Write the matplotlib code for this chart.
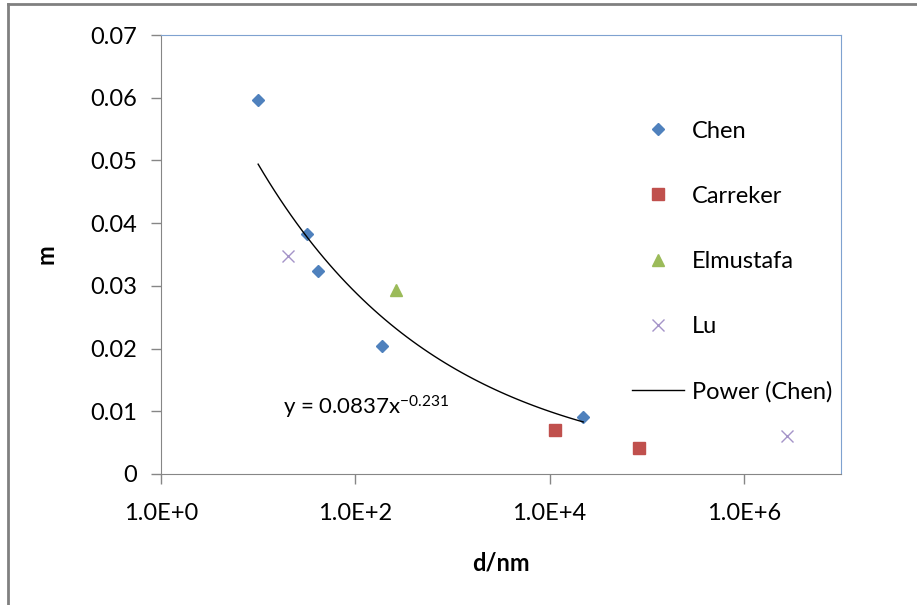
import numpy as np
import matplotlib.pyplot as plt
from matplotlib.lines import Line2D
from matplotlib.ticker import FixedLocator, FuncFormatter, NullLocator

plt.rcParams['font.family'] = ['Lato', 'DejaVu Sans']
plt.rcParams['mathtext.default'] = 'regular'

chen_d = [10, 32, 41.6, 190, 22200]
chen_m = [0.0596, 0.0383, 0.0324, 0.0204, 0.0091]
carreker_d = [11500, 82700]
carreker_m = [0.0070, 0.0041]
elmustafa_d = [265]
elmustafa_m = [0.0293]
lu_d = [20.4, 2.8e6]
lu_m = [0.0348, 0.0061]

x_ticks = [1, 1e2, 1e4, 1e6]
y_ticks = [0, 0.01, 0.02, 0.03, 0.04, 0.05, 0.06, 0.07]

# power trendline through Chen, like Excel does it (fit in log-log)
b, loga = np.polyfit(np.log(chen_d), np.log(chen_m), 1)
xf = np.geomspace(min(chen_d), max(chen_d), 60)
yf = np.exp(loga) * xf ** b

fig = plt.figure(figsize=(9.17, 6.05), dpi=100)
ax = fig.add_axes([161/917, 1-474/605, 680/917, 439/605])

ax.plot(chen_d, chen_m, 'D', color='#4F81BD', ms=6.5, mec='#4F81BD', label='Chen')
ax.plot(carreker_d, carreker_m, 's', color='#C0504D', ms=8, label='Carreker')
ax.plot(elmustafa_d, elmustafa_m, '^', color='#9BBB59', ms=8.5, label='Elmustafa')
ax.plot(lu_d, lu_m, 'x', color='#A594C8', ms=8, mew=1.0, label='Lu')
ax.plot(xf, yf, '-', color='black', lw=1.0, label='Power (Chen)')

ax.set_xscale('log')
ax.set_xlim(1, 1e7)
ax.set_ylim(0, 0.07)
ax.xaxis.set_major_locator(FixedLocator(x_ticks))
ax.xaxis.set_minor_locator(NullLocator())
ax.xaxis.set_major_formatter(FuncFormatter(lambda v, p: '1.0E+%d' % round(np.log10(v))))
ax.set_yticks(y_ticks)
ax.yaxis.set_major_formatter(FuncFormatter(lambda v, p: '0' if v == 0 else '%.2f' % v))

for s in ['left', 'bottom']:
    ax.spines[s].set_color('#868686')
for s in ['top', 'right']:
    ax.spines[s].set_color('#7FA2D0')
ax.tick_params(axis='both', direction='out', length=7, color='#868686', labelsize=17, width=1)
ax.tick_params(axis='x', pad=14)
ax.tick_params(axis='y', pad=10)

ax.set_xlabel('d/nm', fontsize=17, fontweight='bold', labelpad=20)
ax.set_ylabel('m', fontsize=17, fontweight='bold', labelpad=24)

ax.text(0.179, 0.135, 'y = 0.0837x$^{-0.231}$', transform=ax.transAxes, fontsize=16)

ax.legend(loc='upper left', bbox_to_anchor=(0.676, 0.832), frameon=False, fontsize=17,
          labelspacing=1.87, handlelength=2.2, handletextpad=0.3, borderpad=0)

# outer chart border (cropped on right and bottom)
fig.add_artist(Line2D([8/917, 8/917], [0, 1-4/605], transform=fig.transFigure, color='#808080', lw=2))
fig.add_artist(Line2D([8/917, 1], [1-4/605, 1-4/605], transform=fig.transFigure, color='#808080', lw=2))

fig.savefig('out.png', dpi=100)
